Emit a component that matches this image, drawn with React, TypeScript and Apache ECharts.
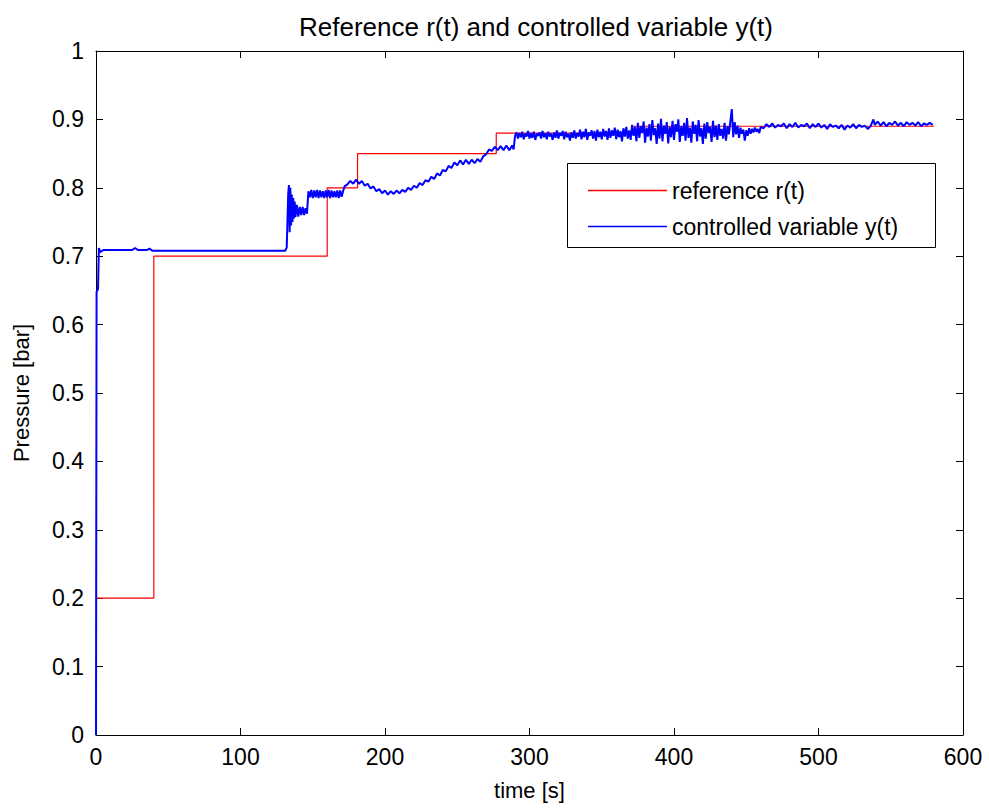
import React, { useEffect, useRef } from "react";
import * as echarts from "echarts";

// Reference r(t): step changes (time [s], value [bar])
const refTimes = [0, 40, 160, 181, 277, 371, 580];
const refValues = [0.2, 0.7, 0.8, 0.85, 0.88, 0.89, 0.89];

// Controlled variable y(t)
const blueStart: [number, number][] = [
  [0, 0], [0.4, 0.648], [1.4, 0.652], [2, 0.712], [3, 0.706], [5, 0.709],
  [25, 0.709], [27, 0.712], [29, 0.709], [35, 0.709], [37, 0.711], [39, 0.708],
  [131, 0.708], [132, 0.713], [133, 0.79], [133.5, 0.804], [134, 0.735],
  [134.5, 0.8], [135, 0.745], [135.5, 0.79], [136, 0.75], [136.5, 0.785],
  [137, 0.755], [137.5, 0.78], [138, 0.757], [139, 0.775], [140, 0.758],
  [141, 0.772], [142, 0.76], [143, 0.772], [144, 0.76], [145, 0.77], [146, 0.762],
];
const blueSettleT0 = 147;
const blueSettle = [
  0.795, 0.786, 0.797, 0.785, 0.796, 0.786, 0.797, 0.785, 0.796, 0.786,
  0.795, 0.785, 0.796, 0.786, 0.797, 0.785, 0.796, 0.786, 0.795, 0.786,
  0.796, 0.785, 0.796, 0.787, 0.795,
];
const blueRise: [number, number][] = [
  [172, 0.802], [174, 0.805], [176, 0.81], [178, 0.806], [180, 0.812], [182, 0.806],
  [184, 0.81], [186, 0.803], [188, 0.806], [190, 0.799], [192, 0.802], [194, 0.795],
  [196, 0.798], [198, 0.792], [200, 0.796], [202, 0.79], [204, 0.795], [206, 0.791],
  [208, 0.796], [210, 0.792], [212, 0.797], [214, 0.794], [216, 0.8], [218, 0.797],
  [220, 0.803], [222, 0.8], [224, 0.807], [226, 0.804], [228, 0.811], [230, 0.809],
  [232, 0.816], [234, 0.813], [236, 0.821], [238, 0.818], [240, 0.826], [242, 0.824],
  [244, 0.832], [246, 0.829], [248, 0.837], [250, 0.833], [252, 0.84], [254, 0.834],
  [256, 0.841], [258, 0.835], [260, 0.841], [262, 0.836], [264, 0.842], [266, 0.838],
  [268, 0.846], [270, 0.849], [272, 0.856], [274, 0.854], [276, 0.86], [278, 0.855],
  [280, 0.861], [282, 0.855], [284, 0.862], [286, 0.855], [288, 0.862], [289, 0.856],
];
const blueNoiseT0 = 290;
const blueNoise = [
  0.876, 0.881, 0.872, 0.880, 0.874, 0.882, 0.871, 0.879, 0.875, 0.883,
  0.872, 0.880, 0.873, 0.882, 0.870, 0.879, 0.876, 0.881, 0.872, 0.883,
  0.874, 0.880, 0.871, 0.882, 0.875, 0.879, 0.870, 0.881, 0.873, 0.884,
  0.872, 0.880, 0.876, 0.883, 0.871, 0.882, 0.874, 0.879, 0.869, 0.881,
  0.873, 0.884, 0.872, 0.880, 0.875, 0.885, 0.871, 0.882, 0.874, 0.886,
  0.870, 0.881, 0.876, 0.884, 0.872, 0.883, 0.869, 0.885, 0.874, 0.882,
  0.871, 0.886, 0.875, 0.883, 0.870, 0.887, 0.873, 0.884, 0.876, 0.888,
  0.871, 0.885, 0.874, 0.883, 0.868, 0.887, 0.875, 0.889, 0.872, 0.884,
  0.870, 0.892, 0.876, 0.889, 0.868, 0.895, 0.873, 0.890, 0.880, 0.897,
  0.866, 0.888, 0.875, 0.893, 0.869, 0.899, 0.877, 0.887, 0.864, 0.894,
  0.872, 0.901, 0.868, 0.891, 0.879, 0.896, 0.865, 0.889, 0.874, 0.898,
  0.870, 0.893, 0.882, 0.900, 0.867, 0.890, 0.876, 0.895, 0.869, 0.902,
  0.873, 0.888, 0.866, 0.897, 0.879, 0.892, 0.868, 0.899, 0.875, 0.887,
  0.864, 0.894, 0.872, 0.896, 0.880, 0.889, 0.867, 0.898, 0.874, 0.891,
  0.870, 0.893, 0.876, 0.886, 0.872, 0.895, 0.869, 0.890, 0.878, 0.897,
  0.915, 0.874, 0.896, 0.878, 0.891, 0.873, 0.888, 0.879, 0.885, 0.869,
  0.884, 0.876, 0.887, 0.879, 0.886, 0.881, 0.888, 0.882, 0.886, 0.880,
  0.889,
];
const blueTailT0 = 462;
const blueTail = [
  0.887, 0.893, 0.889, 0.894, 0.888, 0.892, 0.890, 0.894, 0.887, 0.893,
  0.889, 0.895, 0.888, 0.892, 0.890, 0.894, 0.887, 0.893, 0.889, 0.894,
  0.888, 0.892, 0.886, 0.893, 0.889, 0.891, 0.887, 0.892, 0.885, 0.891,
  0.888, 0.893, 0.887, 0.892, 0.889, 0.891, 0.886, 0.890, 0.900,
];
const blueEndT0 = 539;
const blueEnd = [
  0.892, 0.897, 0.891, 0.896, 0.890, 0.895, 0.892, 0.897, 0.891, 0.895,
  0.890, 0.896, 0.892, 0.895, 0.891, 0.896, 0.890, 0.894, 0.892, 0.895, 0.892,
];

const xTicks = [0, 100, 200, 300, 400, 500, 600];

function buildBlue(): [number, number][] {
  const out: [number, number][] = [...blueStart];
  blueSettle.forEach((v, i) => out.push([blueSettleT0 + i, v]));
  blueRise.forEach((p) => out.push(p));
  blueNoise.forEach((v, i) => out.push([blueNoiseT0 + i, v]));
  blueTail.forEach((v, i) => out.push([blueTailT0 + 2 * i, v]));
  blueEnd.forEach((v, i) => out.push([blueEndT0 + 2 * i, v]));
  return out;
}

const FONT = "'Liberation Sans', Arial, sans-serif";

export default function App() {
  const ref = useRef<HTMLDivElement>(null);
  useEffect(() => {
    if (!ref.current) return;
    const chart = echarts.init(ref.current, undefined, { renderer: "svg" });
    const refData = refTimes.map((t, i) => [t, refValues[i]]);
    const tickStyle = { show: true, inside: true, length: 7, lineStyle: { color: "#000", width: 1 } };
    chart.setOption({
      animation: false,
      backgroundColor: "#fff",
      textStyle: { fontFamily: FONT },
      title: {
        text: "Reference r(t) and controlled variable y(t)",
        left: 531,
        top: 9,
        textAlign: "center",
        textStyle: { fontFamily: FONT, fontSize: 26, fontWeight: "normal", color: "#000" },
      },
      grid: { left: 96, right: 26, top: 51, bottom: 74, containLabel: false },
      legend: {
        orient: "vertical",
        left: 583,
        top: 174,
        icon: "rect",
        itemWidth: 79,
        itemHeight: 1.5,
        itemGap: 13,
        textStyle: { fontFamily: FONT, fontSize: 23, color: "#000" },
        data: ["reference r(t)", "controlled variable y(t)"],
      },
      graphic: [
        {
          type: "rect",
          z: 3,
          shape: { x: 567.5, y: 163.5, width: 368, height: 84 },
          style: { fill: "#fff", stroke: "#000", lineWidth: 1 },
        },
      ],
      xAxis: [
        {
          type: "value",
          min: 0,
          max: 600,
          interval: 100,
          name: "time [s]",
          nameLocation: "middle",
          nameGap: 44,
          nameTextStyle: { fontFamily: FONT, fontSize: 22, color: "#000" },
          axisLine: { show: true, onZero: false, lineStyle: { color: "#000", width: 1 } },
          axisTick: tickStyle,
          axisLabel: {
            fontFamily: FONT,
            fontSize: 23,
            color: "#000",
            margin: 10,
            formatter: (v: number) => (xTicks.includes(v) ? String(v) : ""),
          },
          splitLine: { show: false },
        },
        {
          type: "value",
          position: "top",
          min: 0,
          max: 600,
          interval: 100,
          axisLine: { show: true, onZero: false, lineStyle: { color: "#000", width: 1 } },
          axisTick: tickStyle,
          axisLabel: { show: false },
          splitLine: { show: false },
        },
      ],
      yAxis: [
        {
          type: "value",
          min: 0,
          max: 1,
          interval: 0.1,
          name: "Pressure [bar]",
          nameLocation: "middle",
          nameGap: 64,
          nameRotate: 90,
          nameTextStyle: { fontFamily: FONT, fontSize: 22, color: "#000" },
          axisLine: { show: true, onZero: false, lineStyle: { color: "#000", width: 1 } },
          axisTick: tickStyle,
          axisLabel: {
            fontFamily: FONT,
            fontSize: 23,
            color: "#000",
            margin: 12,
            formatter: (v: number) => String(Math.round(v * 10) / 10),
          },
          splitLine: { show: false },
        },
        {
          type: "value",
          position: "right",
          min: 0,
          max: 1,
          interval: 0.1,
          axisLine: { show: true, onZero: false, lineStyle: { color: "#000", width: 1 } },
          axisTick: tickStyle,
          axisLabel: { show: false },
          splitLine: { show: false },
        },
      ],
      series: [
        {
          name: "reference r(t)",
          type: "line",
          step: "end",
          data: refData,
          symbol: "none",
          z: 2,
          lineStyle: { color: "#ff0000", width: 1.2 },
          itemStyle: { color: "#ff0000" },
        },
        {
          name: "controlled variable y(t)",
          type: "line",
          data: buildBlue(),
          symbol: "none",
          z: 3,
          lineStyle: { color: "#0000ff", width: 2 },
          itemStyle: { color: "#0000ff" },
        },
      ],
    });
    return () => chart.dispose();
  }, []);
  return <div ref={ref} style={{ width: 989, height: 809, position: "absolute", left: 0, top: 0 }} />;
}
